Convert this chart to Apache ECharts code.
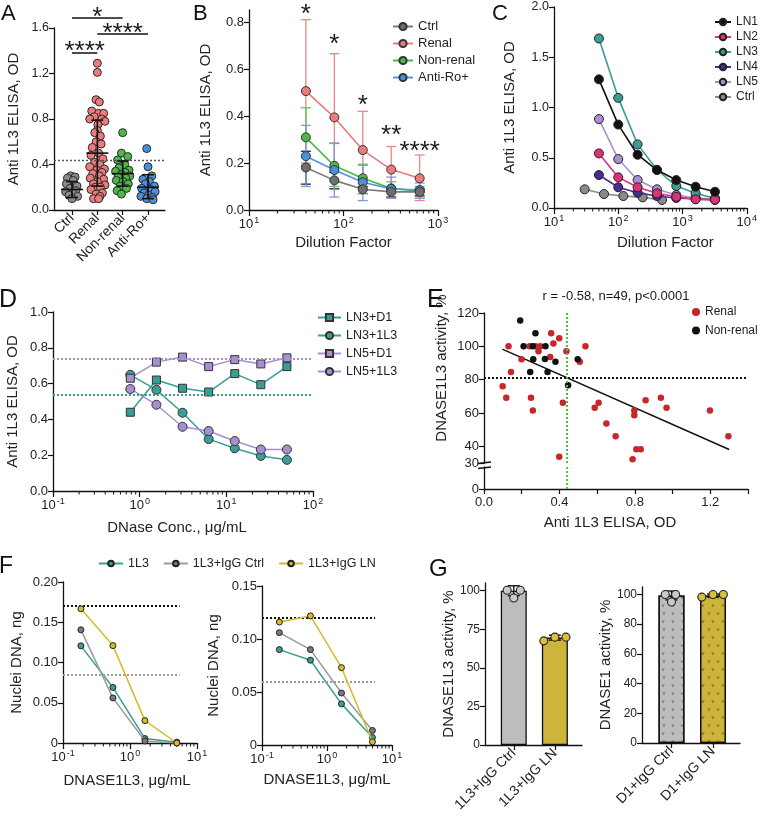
<!DOCTYPE html>
<html><head><meta charset="utf-8">
<script src="https://cdn.jsdelivr.net/npm/echarts@6/dist/echarts.min.js"></script>
<style>html,body{margin:0;padding:0;background:#fff}#c{width:760px;height:818px}</style>
</head><body><div id="c"></div>
<script>
const FONT = 'Liberation Sans, Arial, Helvetica, sans-serif';

// ================= DATA =================
// ---- Panel A ----
const aCats = ['Ctrl', 'Renal', 'Non-renal', 'Anti-Ro+'];
const aCtrl = [0.30,0.29,0.28,0.26,0.23,0.21,0.19,0.17,0.16,0.15,0.13,0.12,0.10];
const aCtrlJit = [-0.05,0.12,-0.18,0.05,-0.22,0.2,-0.08,0.15,-0.25,0.02,-0.12,0.22,0.0];
const aRenal = [1.29,1.21,0.97,0.95,0.87,0.85,0.85,0.82,0.80,0.80,0.78,0.75,0.70,0.68,0.65,0.60,0.58,0.55,0.50,0.48,0.45,0.42,0.40,0.38,0.36,0.35,0.33,0.32,0.30,0.28,0.27,0.25,0.23,0.22,0.20,0.20,0.18,0.15,0.14,0.12,0.10,0.10];
const aRenalJit = [0,0,-0.05,0.08,-0.22,0.05,0.25,-0.12,-0.3,0.18,0.3,0.02,0.0,-0.1,0.12,-0.05,0.15,-0.2,0.05,-0.25,0.22,-0.1,0.1,-0.3,0.28,-0.02,0.18,-0.18,0.08,-0.28,0.25,0.0,-0.15,0.3,-0.08,0.12,-0.25,0.2,-0.05,0.1,-0.15,0.05];
const aNonRenal = [0.68,0.50,0.47,0.44,0.40,0.37,0.35,0.34,0.33,0.31,0.30,0.29,0.28,0.26,0.25,0.23,0.21,0.19,0.17,0.14];
const aNonRenalJit = [0,-0.05,0.2,-0.2,0.08,-0.15,0.25,-0.28,0.1,-0.05,0.28,-0.18,0.12,-0.25,0.02,0.22,-0.1,0.15,-0.22,-0.05];
const aAntiRo = [0.54,0.38,0.30,0.27,0.25,0.23,0.21,0.19,0.18,0.16,0.15,0.13,0.12,0.11,0.10,0.09];
const aAntiRoJit = [-0.05,0.0,0.15,-0.2,0.05,-0.1,0.25,-0.25,0.1,0.28,-0.15,0.02,-0.28,0.18,-0.05,0.2];
const aMean = [0.18, 0.50, 0.32, 0.20];
const aSdLow = [0.11, 0.21, 0.21, 0.10];
const aSdHigh = [0.25, 0.79, 0.43, 0.31];
const aCutoff = 0.44;
const aYTicks = [0, 0.4, 0.8, 1.2, 1.6];

// ---- Panel B ----
const bNames = ['Ctrl', 'Renal', 'Non-renal', 'Anti-Ro+'];
const bDilution = [40, 80, 160, 320, 640];
const bCtrl = [0.181, 0.126, 0.088, 0.077, 0.077];
const bCtrlLo = [0.11, 0.09, 0.07, 0.055, 0.06];
const bCtrlHi = [0.25, 0.16, 0.10, 0.09, 0.09];
const bRenal = [0.506, 0.394, 0.255, 0.172, 0.135];
const bRenalLo = [0.20, 0.13, 0.09, 0.08, 0.04];
const bRenalHi = [0.81, 0.665, 0.42, 0.27, 0.234];
const bNonRenal = [0.309, 0.188, 0.135, 0.092, 0.08];
const bNonRenalLo = [0.19, 0.10, 0.07, 0.07, 0.05];
const bNonRenalHi = [0.435, 0.283, 0.195, 0.12, 0.10];
const bAntiRo = [0.229, 0.17, 0.118, 0.09, 0.085];
const bAntiRoLo = [0.10, 0.055, 0.04, 0.05, 0.05];
const bAntiRoHi = [0.36, 0.285, 0.19, 0.14, 0.115];
const bStars = ['*', '*', '*', '**', '****'];
const bStarY = [0.857, 0.73, 0.47, 0.343, 0.273];
const bYTicks = [0, 0.2, 0.4, 0.6, 0.8];
const bXTicks = [10, 100, 1000];
const bXMinor = [20,30,40,50,60,70,80,90,200,300,400,500,600,700,800,900];

// ---- Panel C ----
const cDilution = [50, 100, 200, 400, 800, 1600, 3200];
const cCtrlDilution = [30, 60, 120, 240, 480];
const cLN1 = [1.28, 0.83, 0.53, 0.378, 0.278, 0.212, 0.162];
const cLN2 = [0.543, 0.305, 0.206, 0.146, 0.112, 0.086, 0.083];
const cLN3 = [1.687, 1.096, 0.633, 0.38, 0.219, 0.146, 0.096];
const cLN4 = [0.328, 0.206, 0.152, 0.119, 0.10, 0.09, 0.08];
const cLN5 = [0.885, 0.487, 0.278, 0.186, 0.129, 0.10, 0.09];
const cCtrl = [0.186, 0.139, 0.119, 0.106, 0.08];
const cYTicks = [0, 0.5, 1.0, 1.5, 2.0];
const cXTicks = [10, 100, 1000, 10000];
const cXMinor = [20,30,40,50,60,70,80,90,200,300,400,500,600,700,800,900,2000,3000,4000,5000,6000,7000,8000,9000];

// ---- Panel D ----
const dConc = [0.78, 1.56, 3.125, 6.25, 12.5, 25, 50];
const dLN3D1 = [0.44, 0.62, 0.574, 0.553, 0.656, 0.594, 0.695];
const dLN31L3 = [0.649, 0.565, 0.437, 0.29, 0.239, 0.196, 0.174];
const dLN5D1 = [0.63, 0.72, 0.748, 0.695, 0.734, 0.71, 0.744];
const dLN51L3 = [0.57, 0.482, 0.359, 0.335, 0.279, 0.232, 0.232];
const dRefLN5 = 0.742;
const dRefLN3 = 0.535;
const dYTicks = [0, 0.2, 0.4, 0.6, 0.8, 1.0];
const dXTicks = [0.1, 1, 10, 100];
const dXMinor = [0.2,0.3,0.4,0.5,0.6,0.7,0.8,0.9,2,3,4,5,6,7,8,9,20,30,40,50,60,70,80,90];

// ---- Panel E ----
const eRenal = [[0.130,100],[0.199,92.2],[0.143,84.6],[0.099,76.1],[0.118,69.2],[0.249,69.2],[0.259,61.5],[0.242,100],[0.273,100],[0.298,100],[0.289,97.0],[0.351,93.6],[0.356,107.8],[0.368,101.7],[0.399,104.8],[0.437,97.0],[0.538,100],[0.508,90.7],[0.418,66.1],[0.399,33.8],[0.587,63.1],[0.608,66.1],[0.649,53.7],[0.698,46.0],[0.797,61.5],[0.797,58.6],[0.808,38.3],[0.831,38.3],[0.788,32.2],[0.857,67.6],[0.938,69.2],[0.968,63.1],[1.198,61.5],[1.296,46.0]];
const eNonRenal = [[0.192,115.5],[0.273,107.8],[0.210,100],[0.259,100],[0.326,100],[0.261,92.2],[0.323,92.4],[0.379,90.8],[0.497,92.2],[0.245,84.6],[0.337,84.6],[0.446,76.7]];
const eFit = [[0.097, 98.3], [1.30, 38.1]];
const eCutX = 0.441;
const eCutY = 81;
const eYTicks = [30, 40, 60, 80, 100, 120];
const eXTicks = [0, 0.2, 0.4, 0.6, 0.8, 1.0, 1.2, 1.4];
const eXLabels = [0, 0.4, 0.8, 1.2];
const eTitle = 'r = -0.58, n=49, p<0.0001';

// ---- Panel F ----
const fNames = ['1L3', '1L3+IgG Ctrl', '1L3+IgG LN'];
const fConc = [0.185, 0.556, 1.67, 5.0];
const fL1L3 = [0.1207, 0.069, 0.0055, 0.001];
const fLCtrl = [0.1406, 0.056, 0.0025, 0.0];
const fLLN = [0.1667, 0.121, 0.0278, 0.0];
const fLRef = [0.170, 0.085];
const fR1L3 = [0.090, 0.080, 0.0388, 0.0071];
const fRCtrl = [0.106, 0.090, 0.049, 0.0137];
const fRLN = [0.116, 0.1218, 0.073, 0.003];
const fRRef = [0.120, 0.060];
const fRefEnd = 5.5;
const fLYTicks = [0, 0.05, 0.10, 0.15, 0.20];
const fRYTicks = [0, 0.05, 0.10, 0.15];
const fXTicks = [0.1, 1, 10];
const fXMinor = [0.2,0.3,0.4,0.5,0.6,0.7,0.8,0.9,2,3,4,5,6,7,8,9];

// ---- Panel G ----
const gLeftCats = ['1L3+IgG Ctrl', '1L3+IgG LN'];
const gLeftMean = [100, 69.6];
const gLeftSd = [3.2, 1.6];
const gLeftPts = [[100.3, 100.3, 95.3], [67.5, 69.9, 69.9]];
const gLeftJit = [[-0.16, 0.16, 0], [-0.27, 0.0, 0.27]];
const gRightCats = ['D1+IgG Ctrl', 'D1+IgG LN'];
const gRightMean = [99.3, 99.3];
const gRightSd = [3.0, 1.0];
const gRightPts = [[100, 100, 94.9], [98.2, 100, 100]];
const gRightJit = [[-0.15, 0.1, 0.0], [-0.27, 0.0, 0.25]];
const gLYTicks = [0, 25, 50, 75, 100];
const gRYTicks = [0, 20, 40, 60, 80, 100];

// ================= HELPERS =================
function merge(a, b) {
  const o = Object.assign({}, a);
  for (const k in b) {
    const bv = b[k], av = a ? a[k] : undefined;
    if (bv && typeof bv === 'object' && !Array.isArray(bv) && av && typeof av === 'object' && !Array.isArray(av)) o[k] = merge(av, bv);
    else o[k] = bv;
  }
  return o;
}
const AX = {
  axisLine: {show: true, onZero: false, lineStyle: {color: '#111', width: 1.3}},
  axisTick: {show: true, length: 5, lineStyle: {color: '#111', width: 1.2}},
  axisLabel: {color: '#222', fontSize: 13, fontFamily: FONT, margin: 5},
  splitLine: {show: false},
  nameLocation: 'middle',
  nameTextStyle: {color: '#222', fontSize: 15, fontFamily: FONT}
};
const ax = o => merge(AX, o);
const RICH = {b: {fontSize: 13, fontFamily: FONT, color: '#222'}, s: {fontSize: 9, fontFamily: FONT, color: '#222', padding: [0, 0, 8, 1]}};
const logFmt = v => '{b|10}{s|' + Math.round(Math.log10(v)) + '}';
const f1 = v => v.toFixed(1);
const logX = (g, min, max, ticks, extra) => ax(merge({type: 'log', gridIndex: g, min, max, position: 'bottom',
  axisTick: {customValues: ticks, length: 6}, axisLabel: {customValues: ticks, formatter: logFmt, rich: RICH, margin: 6}}, extra || {}));
const valY = (g, min, max, ticks, fmt, extra) => ax(merge({type: 'value', gridIndex: g, min, max, position: 'left',
  axisTick: {customValues: ticks}, axisLabel: {customValues: ticks, formatter: fmt}}, extra || {}));

function errRender(color, cap, lw) {
  return function (params, api) {
    const x = api.value(0), lo = api.value(1), hi = api.value(2);
    const p1 = api.coord([x, lo]), p2 = api.coord([x, hi]);
    const st = {stroke: color, lineWidth: lw};
    return {type: 'group', children: [
      {type: 'line', shape: {x1: p1[0], y1: p1[1], x2: p2[0], y2: p2[1]}, style: st},
      {type: 'line', shape: {x1: p1[0] - cap, y1: p1[1], x2: p1[0] + cap, y2: p1[1]}, style: st},
      {type: 'line', shape: {x1: p2[0] - cap, y1: p2[1], x2: p2[0] + cap, y2: p2[1]}, style: st}
    ]};
  };
}
function meanSdRender(params, api) {
  const x = api.value(0), m = api.value(1), lo = api.value(2), hi = api.value(3);
  const pm = api.coord([x, m]), pl = api.coord([x, lo]), ph = api.coord([x, hi]);
  const st = {stroke: '#111', lineWidth: 1.6};
  return {type: 'group', children: [
    {type: 'line', shape: {x1: pm[0] - 11, y1: pm[1], x2: pm[0] + 11, y2: pm[1]}, style: st},
    {type: 'line', shape: {x1: pl[0], y1: pl[1], x2: ph[0], y2: ph[1]}, style: st},
    {type: 'line', shape: {x1: pl[0] - 6, y1: pl[1], x2: pl[0] + 6, y2: pl[1]}, style: st},
    {type: 'line', shape: {x1: ph[0] - 6, y1: ph[1], x2: ph[0] + 6, y2: ph[1]}, style: st}
  ]};
}
function vlineRender(params, api) {
  const x = api.value(0);
  const p1 = api.coord([x, api.value(1)]), p2 = api.coord([x, api.value(2)]);
  return {type: 'line', shape: {x1: p1[0], y1: p1[1], x2: p2[0], y2: p2[1]}, style: {stroke: '#59B84A', lineWidth: 2, lineDash: [2, 2]}};
}
// minor log ticks drawn at the bottom axis of a grid, positions from the axis scale
function minorTickRender(params, api) {
  const p = api.coord([api.value(0), api.value(1)]);
  return {type: 'line', shape: {x1: p[0], y1: p[1], x2: p[0], y2: p[1] + 3.5}, style: {stroke: '#111', lineWidth: 1}};
}
const minorTicks = (gi, vals) => ({type: 'custom', name: 'minor' + gi, xAxisIndex: gi, yAxisIndex: gi, z: 1, silent: true, clip: false,
  renderItem: minorTickRender, encode: {x: 0, y: 1}, data: vals.map(v => [v, 0])});
const zipXY = (xs, ys) => xs.map((x, i) => [x, ys[i]]);
const dotted = (color, val, key) => ({silent: true, symbol: 'none', label: {show: false}, animation: false,
  lineStyle: {type: [2, 2], color, width: 2}, data: [{[key]: val}]});

// ================= OPTION =================
const grids = [
  {left: 54, top: 28, width: 111, height: 182},   // 0 A
  {left: 249, top: 10, width: 189, height: 200},  // 1 B
  {left: 554, top: 7, width: 194, height: 201},   // 2 C
  {left: 53, top: 312, width: 260, height: 179},  // 3 D
  {left: 484, top: 313, width: 264, height: 150}, // 4 E upper
  {left: 484, top: 467, width: 264, height: 22},  // 5 E lower
  {left: 63, top: 582, width: 134, height: 161},  // 6 F left
  {left: 262, top: 586, width: 130, height: 159}, // 7 F right
  {left: 485, top: 583, width: 97, height: 162},  // 8 G left
  {left: 642, top: 587, width: 98, height: 156}   // 9 G right
];

const xAxis = [
  ax({type: 'value', gridIndex: 0, min: 0.29, max: 4.67, position: 'bottom',
      axisTick: {customValues: [1, 2, 3, 4]},
      axisLabel: {customValues: [1, 2, 3, 4], formatter: v => aCats[Math.round(v) - 1], rotate: 45, fontSize: 14, margin: 6}}),
  logX(1, 10, 1000, bXTicks, {name: 'Dilution Factor', nameGap: 25}),
  logX(2, 10, 10000, cXTicks, {name: 'Dilution Factor', nameGap: 27, nameTextStyle: {padding: [0, 0, 0, 30]}}),
  logX(3, 0.1, 100, dXTicks, {name: 'DNase Conc., μg/mL', nameGap: 29, nameTextStyle: {padding: [0, 12, 0, 0]}}),
  {type: 'value', gridIndex: 4, min: 0, max: 1.4, show: false},
  ax({type: 'value', gridIndex: 5, min: 0, max: 1.4, position: 'bottom', name: 'Anti 1L3 ELISA, OD', nameGap: 26,
      nameTextStyle: {padding: [0, 12, 0, 0]},
      axisTick: {customValues: eXTicks}, axisLabel: {customValues: eXLabels, formatter: f1, margin: 7}}),
  logX(6, 0.1, 10, fXTicks, {name: 'DNASE1L3, μg/mL', nameGap: 30, nameTextStyle: {padding: [0, 6, 0, 0]}}),
  logX(7, 0.1, 10, fXTicks, {name: 'DNASE1L3, μg/mL', nameGap: 27}),
  ax({type: 'value', gridIndex: 8, min: 0.3, max: 2.66, position: 'bottom',
      axisTick: {customValues: [1, 2]},
      axisLabel: {customValues: [1, 2], formatter: v => gLeftCats[Math.round(v) - 1], rotate: 45, fontSize: 14, margin: 6}}),
  ax({type: 'value', gridIndex: 9, min: 0.29, max: 2.65, position: 'bottom',
      axisTick: {customValues: [1, 2]},
      axisLabel: {customValues: [1, 2], formatter: v => gRightCats[Math.round(v) - 1], rotate: 45, fontSize: 14, margin: 6}})
];

const yAxis = [
  valY(0, 0, 1.6, aYTicks, f1, {name: 'Anti 1L3 ELISA, OD', nameGap: 33, axisLabel: {fontSize: 12.5}}),
  valY(1, 0, 0.851, bYTicks, f1, {name: 'Anti 1L3 ELISA, OD', nameGap: 36}),
  valY(2, 0, 2, cYTicks, f1, {name: 'Anti 1L3 ELISA, OD', nameGap: 37, axisLabel: {fontSize: 12.5}}),
  valY(3, 0, 1, dYTicks, f1, {name: 'Anti 1L3 ELISA, OD', nameGap: 33}),
  valY(4, 30, 120, eYTicks, v => String(v), {name: 'DNASE1L3 activity, %', nameGap: 35, nameTextStyle: {padding: [0, 0, 0, 40]}}),
  valY(5, 0, 5, [0], v => String(v)),
  valY(6, 0, 0.2, fLYTicks, v => v === 0 ? '0' : v.toFixed(2), {name: 'Nuclei DNA, ng', nameGap: 39}),
  valY(7, 0, 0.15, fRYTicks, v => v === 0 ? '0' : v.toFixed(2), {name: 'Nuclei DNA, ng', nameGap: 41}),
  valY(8, 0, 105, gLYTicks, v => String(v), {name: 'DNASE1L3 activity, %', nameGap: 28, axisLabel: {fontSize: 12}}),
  valY(9, 0, 105, gRYTicks, v => String(v), {name: 'DNASE1 activity, %', nameGap: 29, axisLabel: {fontSize: 12}})
];

const series = [];
// minor ticks on log axes
series.push(minorTicks(1, bXMinor), minorTicks(2, cXMinor), minorTicks(3, dXMinor), minorTicks(6, fXMinor), minorTicks(7, fXMinor));

// ---- A ----
const aGroups = [[aCtrl, aCtrlJit, '#8C8C8C'], [aRenal, aRenalJit, '#EE7B7B'], [aNonRenal, aNonRenalJit, '#4DB84A'], [aAntiRo, aAntiRoJit, '#4A8FD9']];
aGroups.forEach((g, gi) => {
  const s = {type: 'scatter', name: 'A ' + aCats[gi], xAxisIndex: 0, yAxisIndex: 0, symbolSize: 8, z: 2,
    itemStyle: {color: g[2], borderColor: '#2a2a2a', borderWidth: 1, opacity: 1},
    data: g[0].map((v, i) => [gi + 1 + g[1][i], v])};
  if (gi === 0) s.markLine = merge(dotted('#555', aCutoff, 'yAxis'), {lineStyle: {width: 1.3}});
  series.push(s);
});
series.push({type: 'custom', name: 'A meanSD', xAxisIndex: 0, yAxisIndex: 0, z: 5, renderItem: meanSdRender,
  encode: {x: 0, y: [1, 2, 3]}, data: aMean.map((m, i) => [i + 1, m, aSdLow[i], aSdHigh[i]])});

// ---- B ----
const bSets = [
  [bCtrl, bCtrlLo, bCtrlHi, '#7A7A7A', '#6E6E6E', '#222'],
  [bRenal, bRenalLo, bRenalHi, '#E87C7C', '#EE7B7B', '#EC8585'],
  [bNonRenal, bNonRenalLo, bNonRenalHi, '#4DB84A', '#4DB84A', '#62C25A'],
  [bAntiRo, bAntiRoLo, bAntiRoHi, '#5B93DD', '#4A8FD9', '#8496DE']
];
bSets.forEach((s, i) => {
  series.push({type: 'custom', name: 'Berr' + i, xAxisIndex: 1, yAxisIndex: 1, z: 1, renderItem: errRender(s[5], 5, 1.3),
    encode: {x: 0, y: [1, 2]}, data: bDilution.map((d, k) => [d, s[1][k], s[2][k]])});
});
[1, 2, 3, 0].forEach(i => {
  const s = bSets[i];
  series.push({type: 'line', name: bNames[i], xAxisIndex: 1, yAxisIndex: 1, z: 3 + (i === 0 ? 2 : 0), symbol: 'circle', symbolSize: 9,
    lineStyle: {color: s[3], width: 1.6}, itemStyle: {color: s[4], borderColor: '#333', borderWidth: 1},
    data: zipXY(bDilution, s[0])});
});

// ---- C ----
const cSets = [['LN1', cLN1, '#111111', '#111111'], ['LN2', cLN2, '#E0307A', '#E0307A'], ['LN3', cLN3, '#3A9E94', '#3A9E94'],
  ['LN4', cLN4, '#4B2B8F', '#4B2B8F'], ['LN5', cLN5, '#A98FD0', '#A98FD0']];
cSets.forEach((s, i) => {
  series.push({type: 'line', name: s[0], xAxisIndex: 2, yAxisIndex: 2, symbol: 'circle', symbolSize: 9, z: 3 + (5 - i),
    lineStyle: {color: s[2], width: 1.6}, itemStyle: {color: s[3], borderColor: '#222', borderWidth: 1},
    data: zipXY(cDilution, s[1])});
});
series.push({type: 'line', name: 'Ctrl ', xAxisIndex: 2, yAxisIndex: 2, symbol: 'circle', symbolSize: 9, z: 2,
  lineStyle: {color: '#8A8A8A', width: 1.6}, itemStyle: {color: '#8A8A8A', borderColor: '#222', borderWidth: 1},
  data: zipXY(cCtrlDilution, cCtrl)});

// ---- D ----
const dSets = [['LN3+D1', dLN3D1, 'rect', '#3A9E94'], ['LN3+1L3', dLN31L3, 'circle', '#3A9E94'],
  ['LN5+D1', dLN5D1, 'rect', '#A88FD4'], ['LN5+1L3', dLN51L3, 'circle', '#A88FD4']];
dSets.forEach((s, i) => {
  const o = {type: 'line', name: s[0], xAxisIndex: 3, yAxisIndex: 3, symbol: s[2], symbolSize: s[2] === 'rect' ? 8 : 9, z: 3,
    lineStyle: {color: s[3], width: 1.5}, itemStyle: {color: s[3], borderColor: '#333', borderWidth: 1},
    data: zipXY(dConc, s[1])};
  if (i === 0) o.markLine = dotted('#3A9E94', dRefLN3, 'yAxis');
  if (i === 2) o.markLine = dotted('#A88FD4', dRefLN5, 'yAxis');
  series.push(o);
});

// ---- E ----
series.push({type: 'scatter', name: 'Renal ', xAxisIndex: 4, yAxisIndex: 4, symbolSize: 6.5, z: 3,
  itemStyle: {color: '#C8272A', opacity: 1}, data: eRenal,
  markLine: {silent: true, symbol: 'none', label: {show: false}, data: [
    {yAxis: eCutY, lineStyle: {type: [2, 2], color: '#111', width: 2}},
    {xAxis: eCutX, lineStyle: {type: [2, 2], color: '#59B84A', width: 2}}]}});
series.push({type: 'scatter', name: 'Non-renal ', xAxisIndex: 4, yAxisIndex: 4, symbolSize: 6.5, z: 4,
  itemStyle: {color: '#111', opacity: 1}, data: eNonRenal});
series.push({type: 'line', name: 'E fit', xAxisIndex: 4, yAxisIndex: 4, symbol: 'none', z: 2,
  lineStyle: {color: '#111', width: 1.5}, data: eFit});
series.push({type: 'custom', name: 'E cut lower', xAxisIndex: 5, yAxisIndex: 5, renderItem: vlineRender,
  encode: {x: 0, y: [1, 2]}, data: [[eCutX, 0, 5]]});

// ---- F ----
const fColors = [['#3A9E94', '#3A9E94'], ['#9A9A9A', '#7A7A7A'], ['#D9B92E', '#D9B92E']];
[[fL1L3, fLCtrl, fLLN, fLRef, 6], [fR1L3, fRCtrl, fRLN, fRRef, 7]].forEach(set => {
  const gi = set[4];
  [0, 1, 2].forEach(k => {
    const o = {type: 'line', name: fNames[k], xAxisIndex: gi, yAxisIndex: gi, symbol: 'circle', symbolSize: 6, z: 3 + k,
      lineStyle: {color: fColors[k][0], width: 1.5}, itemStyle: {color: fColors[k][1], borderColor: '#222', borderWidth: 1},
      data: zipXY(fConc, set[k])};
    if (k === 0) o.markLine = {silent: true, symbol: 'none', label: {show: false}, data: [
      [{coord: [0.1, set[3][0]], lineStyle: {type: [2, 2], color: '#111', width: 2}}, {coord: [fRefEnd, set[3][0]]}],
      [{coord: [0.1, set[3][1]], lineStyle: {type: [2, 2], color: '#9A9A9A', width: 2}}, {coord: [fRefEnd, set[3][1]]}]]};
    series.push(o);
  });
});

// ---- G ----
const gDecal = {symbol: 'triangle', symbolSize: 0.8, rotation: Math.PI, color: 'rgba(60,60,60,0.5)',
  dashArrayX: [[4, 4.5], [0, 4.25, 4, 0.25]], dashArrayY: [3.5, 4]};
const gBarColors = ['#BDBDBD', '#CDB43A'];
const gPtColors = ['#C9C9C9', '#D9C03A'];
[[gLeftMean, gLeftSd, gLeftPts, gLeftJit, 8, false], [gRightMean, gRightSd, gRightPts, gRightJit, 9, true]].forEach(set => {
  const gi = set[4];
  series.push({type: 'bar', name: 'G bars ' + gi, xAxisIndex: gi, yAxisIndex: gi, barWidth: 26, z: 2,
    data: set[0].map((m, i) => ({value: [i + 1, m], itemStyle: {color: gBarColors[i], borderColor: '#111', borderWidth: 1.3,
      decal: set[5] ? gDecal : undefined}}))});
  series.push({type: 'custom', name: 'G err ' + gi, xAxisIndex: gi, yAxisIndex: gi, z: 3, renderItem: errRender('#111', 6, 1.4),
    encode: {x: 0, y: [1, 2]}, data: set[0].map((m, i) => [i + 1, m - set[1][i], m + set[1][i]])});
  const pts = [];
  set[2].forEach((arr, i) => arr.forEach((v, k) => pts.push({value: [i + 1 + set[3][i][k], v], itemStyle: {color: gPtColors[i]}})));
  series.push({type: 'scatter', name: 'G pts ' + gi, xAxisIndex: gi, yAxisIndex: gi, z: 4, symbolSize: 8, clip: false,
    itemStyle: {borderColor: '#222', borderWidth: 1.1, opacity: 1}, data: pts});
});

const trim = n => n.trim();
const legend = [
  {data: bNames, left: 392, top: 20, padding: 0, orient: 'vertical', itemWidth: 20, itemHeight: 9, itemGap: 4,
   textStyle: {fontSize: 13, fontFamily: FONT, color: '#222'}, selectedMode: false},
  {data: ['LN1', 'LN2', 'LN3', 'LN4', 'LN5', 'Ctrl '], formatter: trim, left: 714, top: 16, padding: 0, orient: 'vertical', itemWidth: 16, itemHeight: 8, itemGap: 3,
   textStyle: {fontSize: 12, fontFamily: FONT, color: '#222'}, selectedMode: false},
  {data: ['LN3+D1', 'LN3+1L3', 'LN5+D1', 'LN5+1L3'], left: 317, top: 311, padding: 0, orient: 'vertical', itemWidth: 23, itemHeight: 9, itemGap: 5,
   textStyle: {fontSize: 12.5, fontFamily: FONT, color: '#222'}, selectedMode: false},
  {data: ['Renal ', 'Non-renal '], formatter: trim, left: 692, top: 306, padding: 0, orient: 'vertical', itemWidth: 8, itemHeight: 8, itemGap: 6.5,
   itemStyle: {opacity: 1}, textStyle: {fontSize: 12, fontFamily: FONT, color: '#222'}, selectedMode: false},
  {data: fNames, left: 98, top: 557, padding: 0, orient: 'horizontal', itemWidth: 24, itemHeight: 7, itemGap: 14,
   textStyle: {fontSize: 12.5, fontFamily: FONT, color: '#222'}, selectedMode: false}
];

const option = {animation: false, backgroundColor: '#fff', grid: grids, xAxis, yAxis, series, legend};
const chart = echarts.init(document.getElementById('c'), null, {renderer: 'canvas', width: 760, height: 818});
chart.setOption(option);

// ================= ANNOTATIONS =================
const px = (xi, yi, pt) => chart.convertToPixel({xAxisIndex: xi, yAxisIndex: yi}, pt);
const STAR_FONT = 26, STAR_DY = 6;
const txt = (x, y, text, size, extra) => Object.assign({type: 'text', x, y, silent: true,
  style: Object.assign({text, fontSize: size, fontFamily: FONT, fill: '#1a1a1a', align: 'center', verticalAlign: 'middle'}, extra || {})});
const hl = (x1, x2, y) => ({type: 'line', silent: true, shape: {x1, y1: y, x2, y2: y}, style: {stroke: '#111', lineWidth: 1.5}});
const g = [];
// Panel A significance bars
const aX = [1, 2, 3, 4].map(c => px(0, 0, [c, 0])[0]);
const aSig = [[0, 2, 18, '*', 11.5], [1, 3, 34, '****', 28], [0, 1, 53, '****', 46]];
aSig.forEach(s => {
  g.push(hl(aX[s[0]], aX[s[1]], s[2]));
  g.push(txt((aX[s[0]] + aX[s[1]]) / 2, s[4] + STAR_DY, s[3], STAR_FONT));
});
// Panel B stars
bStars.forEach((s, i) => {
  const p = px(1, 1, [bDilution[i], bStarY[i]]);
  g.push(txt(p[0], p[1] + STAR_DY, s, STAR_FONT));
});
// Panel letters
[['A', 1, 3, 22], ['B', 193, 3, 22], ['C', 492, 3, 22], ['D', -1, 288, 25], ['E', 427, 288, 25], ['F', -1, 555, 23], ['G', 429, 557, 24]]
  .forEach(l => g.push(txt(l[1], l[2], l[0], l[3], {align: 'left', verticalAlign: 'top', fill: '#111'})));
// Panel E title and axis break marks
g.push(txt(616, 296, eTitle, 13));
g.push({type: 'line', silent: true, shape: {x1: 478, y1: 463.5, x2: 491, y2: 462}, style: {stroke: '#111', lineWidth: 1.3}});
g.push({type: 'line', silent: true, shape: {x1: 478, y1: 468.5, x2: 491, y2: 467}, style: {stroke: '#111', lineWidth: 1.3}});
chart.setOption({graphic: g});
</script>
</body></html>
